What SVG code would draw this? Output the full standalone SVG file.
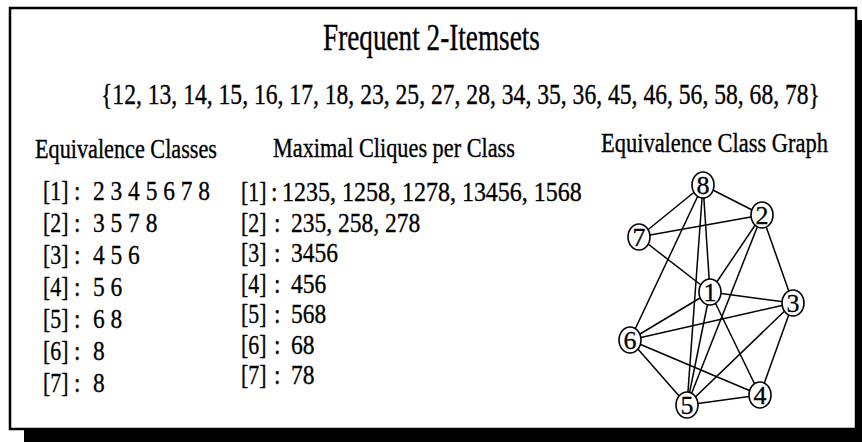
<svg xmlns="http://www.w3.org/2000/svg" width="862" height="442" viewBox="0 0 862 442">
  <style>
    .t { font-family: "Liberation Serif", "Times New Roman", serif; fill: #000; stroke: #000; stroke-width: 0.35; }
    .title { font-size: 37px; }
    .set { font-size: 29px; }
    .head { font-size: 27px; }
    .row { font-size: 28px; }
    .edge { stroke: #000; stroke-width: 1.5; fill: none; }
    .node ellipse { fill: #fff; stroke: #000; stroke-width: 1.6; }
    .node text { font-family: "Liberation Serif", "Times New Roman", serif; font-size: 26px; text-anchor: middle; fill: #000; stroke: #000; stroke-width: 0.3; }
  </style>

  <!-- drop shadow and frame -->
  <rect x="24" y="20" width="850" height="430" fill="#000"/>
  <rect x="10" y="8" width="846" height="421" fill="#fff" stroke="#000" stroke-width="2.5"/>

  <!-- headings (condensed serif) -->
  <text class="t title" transform="translate(323,50) scale(0.736,1)">Frequent 2-Itemsets</text>
  <text class="t set" transform="translate(101,104) scale(0.814,1)">{12, 13, 14, 15, 16, 17, 18, 23, 25, 27, 28, 34, 35, 36, 45, 46, 56, 58, 68, 78}</text>
  <text class="t head" transform="translate(35,158) scale(0.823,1)">Equivalence Classes</text>
  <text class="t head" transform="translate(273,157) scale(0.825,1)">Maximal Cliques per Class</text>
  <text class="t head" transform="translate(601,152) scale(0.832,1)">Equivalence Class Graph</text>

  <!-- equivalence classes -->
  <g id="classes" class="t row">
    <text transform="translate(43,200) scale(0.78,1)">[1]</text><text transform="translate(74,200) scale(0.84,1)">:</text>
    <text transform="translate(93,200) scale(0.836,1)">2 3 4 5 6 7 8</text>
    <text transform="translate(43,232) scale(0.78,1)">[2]</text><text transform="translate(74,232) scale(0.84,1)">:</text>
    <text transform="translate(93,232) scale(0.836,1)">3 5 7 8</text>
    <text transform="translate(43,264) scale(0.78,1)">[3]</text><text transform="translate(74,264) scale(0.84,1)">:</text>
    <text transform="translate(93,264) scale(0.836,1)">4 5 6</text>
    <text transform="translate(43,296) scale(0.78,1)">[4]</text><text transform="translate(74,296) scale(0.84,1)">:</text>
    <text transform="translate(93,296) scale(0.836,1)">5 6</text>
    <text transform="translate(43,328) scale(0.78,1)">[5]</text><text transform="translate(74,328) scale(0.84,1)">:</text>
    <text transform="translate(93,328) scale(0.836,1)">6 8</text>
    <text transform="translate(43,360) scale(0.78,1)">[6]</text><text transform="translate(74,360) scale(0.84,1)">:</text>
    <text transform="translate(93,360) scale(0.836,1)">8</text>
    <text transform="translate(43,392) scale(0.78,1)">[7]</text><text transform="translate(74,392) scale(0.84,1)">:</text>
    <text transform="translate(93,392) scale(0.836,1)">8</text>
  </g>

  <!-- maximal cliques -->
  <g id="cliques" class="t row">
    <text transform="translate(241,201) scale(0.78,1)">[1]</text><text transform="translate(271,201) scale(0.84,1)">:</text>
    <text transform="translate(282,201) scale(0.857,1)">1235, 1258, 1278, 13456, 1568</text>
    <text transform="translate(241,231.5) scale(0.78,1)">[2]</text><text transform="translate(274,231.5) scale(0.84,1)">:</text>
    <text transform="translate(291,231.5) scale(0.84,1)">235, 258, 278</text>
    <text transform="translate(241,262) scale(0.78,1)">[3]</text><text transform="translate(274,262) scale(0.84,1)">:</text>
    <text transform="translate(291,262) scale(0.84,1)">3456</text>
    <text transform="translate(241,292.5) scale(0.78,1)">[4]</text><text transform="translate(274,292.5) scale(0.84,1)">:</text>
    <text transform="translate(291,292.5) scale(0.84,1)">456</text>
    <text transform="translate(241,323) scale(0.78,1)">[5]</text><text transform="translate(274,323) scale(0.84,1)">:</text>
    <text transform="translate(291,323) scale(0.84,1)">568</text>
    <text transform="translate(241,353.5) scale(0.78,1)">[6]</text><text transform="translate(274,353.5) scale(0.84,1)">:</text>
    <text transform="translate(291,353.5) scale(0.84,1)">68</text>
    <text transform="translate(241,384) scale(0.78,1)">[7]</text><text transform="translate(274,384) scale(0.84,1)">:</text>
    <text transform="translate(291,384) scale(0.84,1)">78</text>
  </g>

  <!-- class graph edges -->
  <g id="edges" class="edge">
    <line x1="703" y1="185" x2="639" y2="237"/>
    <line x1="703" y1="185" x2="762" y2="215"/>
    <line x1="703" y1="185" x2="630" y2="340"/>
    <line x1="703" y1="185" x2="687" y2="405"/>
    <line x1="703" y1="185" x2="710" y2="292"/>
    <line x1="639" y1="237" x2="762" y2="215"/>
    <line x1="639" y1="237" x2="710" y2="292"/>
    <line x1="762" y1="215" x2="710" y2="292"/>
    <line x1="762" y1="215" x2="687" y2="405"/>
    <line x1="762" y1="215" x2="793" y2="303"/>
    <line x1="710" y1="292" x2="793" y2="303"/>
    <line x1="710" y1="292" x2="630" y2="340"/>
    <line x1="710" y1="292" x2="687" y2="405"/>
    <line x1="710" y1="292" x2="760" y2="395"/>
    <line x1="793" y1="303" x2="630" y2="340"/>
    <line x1="793" y1="303" x2="687" y2="405"/>
    <line x1="793" y1="303" x2="760" y2="395"/>
    <line x1="630" y1="340" x2="687" y2="405"/>
    <line x1="630" y1="340" x2="760" y2="395"/>
    <line x1="687" y1="405" x2="760" y2="395"/>
  </g>

  <!-- class graph nodes -->
  <g id="n8" class="node"><ellipse cx="703" cy="185" rx="11" ry="13"/><text x="703" y="194">8</text></g>
  <g id="n2" class="node"><ellipse cx="762" cy="215" rx="11" ry="13"/><text x="762" y="224">2</text></g>
  <g id="n7" class="node"><ellipse cx="639" cy="237" rx="11" ry="13"/><text x="639" y="246">7</text></g>
  <g id="n1" class="node"><ellipse cx="710" cy="292" rx="11" ry="13"/><text x="710" y="301">1</text></g>
  <g id="n3" class="node"><ellipse cx="793" cy="303" rx="11" ry="13"/><text x="793" y="312">3</text></g>
  <g id="n6" class="node"><ellipse cx="630" cy="340" rx="11" ry="13"/><text x="630" y="349">6</text></g>
  <g id="n4" class="node"><ellipse cx="760" cy="395" rx="11" ry="13"/><text x="760" y="404">4</text></g>
  <g id="n5" class="node"><ellipse cx="687" cy="405" rx="11" ry="13"/><text x="687" y="414">5</text></g>
</svg>
